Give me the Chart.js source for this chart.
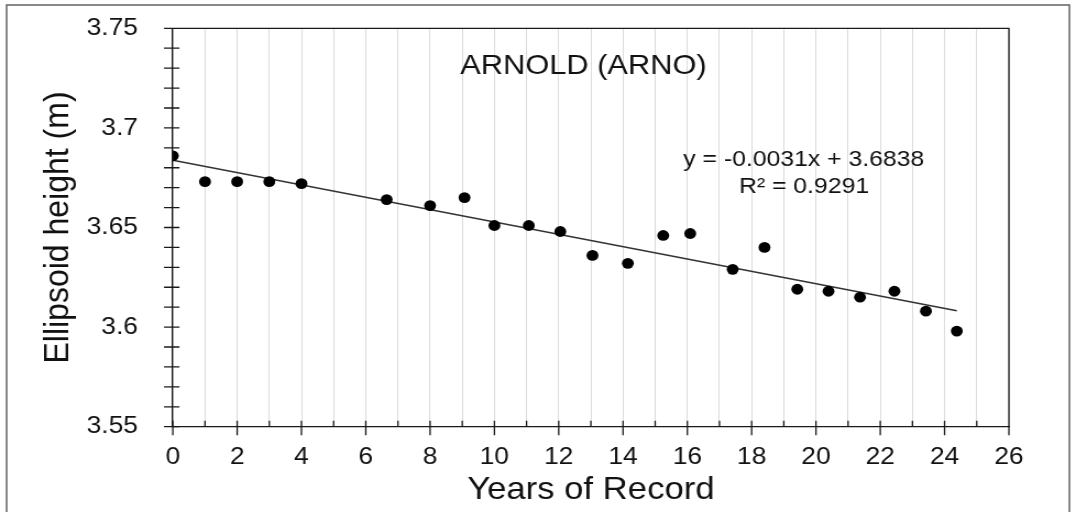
<!DOCTYPE html>
<html lang="en">
<head>
<meta charset="UTF-8">
<title>ARNOLD (ARNO)</title>
<script src="https://cdn.jsdelivr.net/npm/chart.js@4.4.1/dist/chart.umd.min.js"></script>
<style>
  html, body { margin: 0; padding: 0; background: #fff; overflow: hidden; }
  /* the source picture is stretched a little sideways, so the chart is too */
  #wrap { width: 978px; height: 512px; transform: scaleX(1.1002); transform-origin: 0 0; }
</style>
</head>
<body>
<div id="wrap"><canvas id="myChart"></canvas></div>
<script>
// values
const years   = [0, 1, 2, 3, 4, 6.65, 8, 9.07, 10, 11.07, 12.05, 13.05, 14.15, 15.25, 16.09, 17.41, 18.4, 19.42, 20.39, 21.37, 22.44, 23.42, 24.38]
const heights = [3.686, 3.673, 3.673, 3.673, 3.672, 3.664, 3.661, 3.665, 3.651, 3.651, 3.648, 3.636, 3.632, 3.646, 3.647, 3.629, 3.640, 3.619, 3.618, 3.615, 3.618, 3.608, 3.598]
const trendX = [0, 24.38]
const trendY = [3.6838, 3.6082]
const xTickLabels = ['0', '2', '4', '6', '8', '10', '12', '14', '16', '18', '20', '22', '24', '26']
const yTickLabels = ['3.55', '3.6', '3.65', '3.7', '3.75']
const chartTitle = 'ARNOLD (ARNO)'
const eqText = 'y = -0.0031x + 3.6838'
const r2Text = 'R\u00b2 = 0.9291'

const FONT = '"Liberation Sans", Arial, sans-serif'
const ink = '#1a1a1a'

const toXY = (xs, ys) => xs.map((x, i) => ({ x: x, y: ys[i] }))

// frame, box, crossing tick marks
const marks = {
  id: 'marks',
  beforeDraw(chart) {
    const c = chart.ctx
    c.save()
    c.fillStyle = '#fff'
    c.fillRect(0, 0, chart.width, chart.height)
    c.strokeStyle = '#6b6b6b'
    c.lineWidth = 1.6
    c.strokeRect(6, 5, 966, 540)
    c.restore()
  },
  beforeDatasetsDraw(chart) {
    const c = chart.ctx
    const a = chart.chartArea
    const xs = chart.scales.x, ys = chart.scales.y
    c.save()
    c.strokeStyle = ink
    c.lineWidth = 1.3
    c.beginPath()
    c.moveTo(a.left, a.top); c.lineTo(a.right, a.top); c.lineTo(a.right, a.bottom)
    ys.ticks.forEach(t => {
      const p = ys.getPixelForValue(t.value)
      c.moveTo(a.left - 8, p); c.lineTo(a.left + 6, p)
    })
    xs.ticks.forEach(t => {
      const p = xs.getPixelForValue(t.value)
      const major = Math.round(t.value) % 2 === 0
      c.moveTo(p, a.bottom - 6); c.lineTo(p, major ? a.bottom + 8.5 : a.bottom)
    })
    c.stroke()
    c.restore()
  },
  afterDraw(chart) {
    const c = chart.ctx
    const xs = chart.scales.x, ys = chart.scales.y
    c.save()
    c.fillStyle = '#111'
    c.textAlign = 'center'
    c.textBaseline = 'alphabetic'
    c.font = '28px ' + FONT
    c.fillText(chartTitle, xs.getPixelForValue(12.77), ys.getPixelForValue(3.7270))
    c.font = '22.5px ' + FONT
    c.fillText(eqText, xs.getPixelForValue(19.62), ys.getPixelForValue(3.6809))
    c.fillText(r2Text, xs.getPixelForValue(19.63), ys.getPixelForValue(3.6672))
    c.restore()
  }
}

const ctx = document.getElementById('myChart')
const myChart = new Chart(ctx, {
  type: 'scatter',
  data: {
    datasets: [{
      label: 'Ellipsoid height',
      data: toXY(years, heights),
      backgroundColor: '#000',
      borderColor: '#000',
      pointRadius: 5.4,
      pointBorderWidth: 0
    }, {
      label: 'Linear trend',
      data: toXY(trendX, trendY),
      showLine: true,
      borderColor: '#333',
      borderWidth: 1.5,
      pointRadius: 0
    }]
  },
  options: {
    responsive: true,
    maintainAspectRatio: false,
    animation: false,
    events: [],
    layout: { padding: { top: 28.3, right: 61, left: 0, bottom: 0 } },
    plugins: { legend: { display: false }, tooltip: { enabled: false } },
    scales: {
      x: {
        type: 'linear',
        min: 0, max: 26,
        afterFit: s => { s.height = 85.3; s.paddingLeft = 0; s.paddingRight = 0 },
        grid: { color: '#dcdcdc', lineWidth: 1, drawTicks: false },
        border: { display: true, color: ink, width: 1.3 },
        ticks: {
          stepSize: 1, maxTicksLimit: 100, autoSkip: false, maxRotation: 0,
          padding: 15.9, color: '#111',
          font: { family: FONT, size: 24 },
          callback: v => xTickLabels.includes(String(v)) ? String(v) : ''
        },
        title: {
          display: true, text: 'Years of Record', color: '#111',
          font: { family: FONT, size: 31.5 },
          padding: { top: 0, bottom: 2.6 }
        }
      },
      y: {
        type: 'linear',
        min: 3.55, max: 3.75,
        afterFit: s => { s.width = 157.1; s.paddingTop = 0; s.paddingBottom = 0 },
        grid: { display: false },
        border: { display: true, color: ink, width: 1.3 },
        ticks: {
          stepSize: 0.01, maxTicksLimit: 100, autoSkip: false,
          padding: 23.7, color: '#111',
          font: { family: FONT, size: 24 },
          callback: v => {
            const s = String(Math.round(v * 100) / 100)
            return yTickLabels.includes(s) ? s : ''
          }
        },
        title: {
          display: true, text: 'Ellipsoid height (m)', color: '#111',
          font: { family: FONT, size: 32 },
          padding: { top: 33.8, bottom: 0 }
        }
      }
    }
  },
  plugins: [marks]
})
</script>
</body>
</html>
